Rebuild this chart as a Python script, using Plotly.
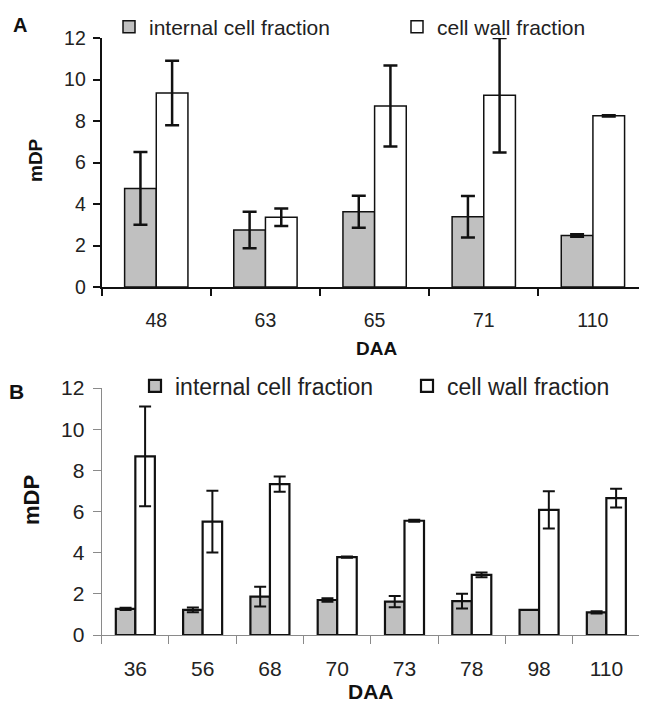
import plotly.graph_objects as go

# ---------------- data ----------------
A_daa = ["48", "63", "65", "71", "110"]
A_internal = [4.75, 2.75, 3.63, 3.38, 2.48]
A_internal_err = [1.75, 0.88, 0.77, 1.00, 0.06]
A_wall = [9.35, 3.36, 8.72, 9.24, 8.25]
A_wall_err = [1.55, 0.42, 1.95, 2.76, 0.03]

B_daa = ["36", "56", "68", "70", "73", "78", "98", "110"]
B_internal = [1.27, 1.22, 1.86, 1.70, 1.62, 1.65, 1.22, 1.10]
B_internal_err = [0.05, 0.12, 0.48, 0.08, 0.27, 0.36, None, 0.05]
B_wall = [8.68, 5.51, 7.33, 3.78, 5.55, 2.92, 6.08, 6.65]
B_wall_err = [2.42, 1.50, 0.37, 0.03, 0.05, 0.12, 0.90, 0.45]

series_names = ["internal cell fraction", "cell wall fraction"]
y_ticks = [0, 2, 4, 6, 8, 10, 12]

W, H = 647, 704
OFF = 8  # page body margin offset
FONT = "Liberation Sans, Arial, Helvetica, sans-serif"
GRAY = "#c0c0c0"


def px_x(p):
    return (p - OFF) / W


def px_y(p):
    return 1 - (p - OFF) / H


fig = go.Figure()

# Panel A
fig.add_trace(go.Bar(
    x=A_daa, y=A_internal, name=series_names[0],
    marker=dict(color=GRAY, line=dict(color="#111", width=1.5)),
    error_y=dict(type="data", array=A_internal_err, color="#111", thickness=2.5, width=7),
    xaxis="x", yaxis="y", legend="legend"))
fig.add_trace(go.Bar(
    x=A_daa, y=A_wall, name=series_names[1],
    marker=dict(color="white", line=dict(color="#111", width=1.5)),
    error_y=dict(type="data", array=A_wall_err, color="#111", thickness=2.5, width=7),
    xaxis="x", yaxis="y", legend="legend3"))

# Panel B
fig.add_trace(go.Bar(
    x=B_daa, y=B_internal, name=series_names[0],
    marker=dict(color=GRAY, line=dict(color="#111", width=2.2)),
    error_y=dict(type="data", array=B_internal_err, color="#111", thickness=2, width=6),
    xaxis="x2", yaxis="y2", legend="legend2"))
fig.add_trace(go.Bar(
    x=B_daa, y=B_wall, name=series_names[1],
    marker=dict(color="white", line=dict(color="#111", width=2.2)),
    error_y=dict(type="data", array=B_wall_err, color="#111", thickness=2, width=6),
    xaxis="x2", yaxis="y2", legend="legend4"))

axA = dict(showline=True, linecolor="#111", linewidth=2, ticks="outside",
           tickcolor="#111", tickwidth=2, ticklen=7, showgrid=False, zeroline=False)
axB = dict(showline=True, linecolor="#8a8a8a", linewidth=1.2, ticks="outside",
           tickcolor="#8a8a8a", tickwidth=1.2, ticklen=8, showgrid=False, zeroline=False)


def leg(x_px, y_px, size):
    return dict(orientation="h", x=px_x(x_px), xanchor="left", y=px_y(y_px), yanchor="middle",
                bgcolor="rgba(0,0,0,0)", font=dict(size=size, family=FONT, color="#222"),
                itemclick=False, itemdoubleclick=False)


fig.update_layout(
    width=W, height=H,
    margin=dict(l=0, r=0, t=0, b=0, autoexpand=False),
    paper_bgcolor="white", plot_bgcolor="white",
    font=dict(family=FONT, color="#222"),
    showlegend=True,
    barmode="group", bargap=0.42, bargroupgap=0,
    xaxis=dict(domain=[px_x(101.7), px_x(647.5)], anchor="y", type="category",
               tickson="boundaries", ticklabelstandoff=15,
               tickfont=dict(size=19.5, color="#222"), **axA),
    yaxis=dict(domain=[px_y(287), px_y(38)], anchor="x", range=[0, 12],
               tickvals=y_ticks, ticklabelstandoff=3,
               tickfont=dict(size=19.5, color="#222"), **axA),
    xaxis2=dict(domain=[px_x(101.7), px_x(640)], anchor="y2", type="category",
                tickson="boundaries", ticklabelstandoff=15,
                tickfont=dict(size=21, color="#222"), **axB),
    yaxis2=dict(domain=[px_y(635), px_y(388)], anchor="x2", range=[0, 12],
                tickvals=y_ticks, ticklabelstandoff=4,
                tickfont=dict(size=21, color="#222"), **axB),
    legend=leg(109, 27, 21),
    legend3=leg(397, 27, 21),
    legend2=leg(135, 386, 23),
    legend4=leg(407, 386, 23),
)

ann = [
    ("<b>A</b>", 20, 25, 20, 0),
    ("<b>B</b>", 16, 391, 21, 0),
    ("<b>mDP</b>", 35, 160, 19, -90),
    ("<b>mDP</b>", 31, 500, 22, -90),
    ("<b>DAA</b>", 376, 348, 19, 0),
    ("<b>DAA</b>", 371, 691, 21, 0),
]
for text, x, y, size, ang in ann:
    fig.add_annotation(text=text, x=px_x(x), y=px_y(y), xref="paper", yref="paper",
                       showarrow=False, textangle=ang, xanchor="center", yanchor="middle",
                       font=dict(size=size, family=FONT, color="#111"))

fig.write_html("out.html")
